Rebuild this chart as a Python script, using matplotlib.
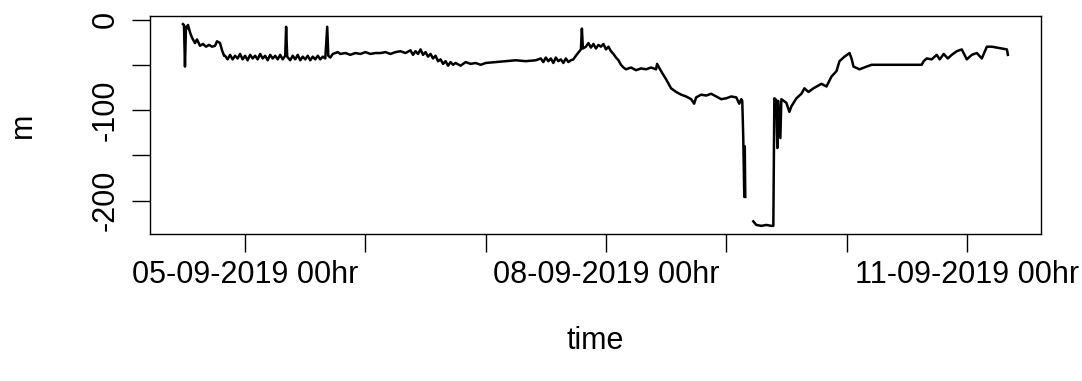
import numpy as np
import matplotlib
matplotlib.use("Agg")
import matplotlib.pyplot as plt

# water level readings, hours counted from 05-09-2019 00:00
hours = [
    -12.4, -12.2, -12.0, -11.8, -11.6, -11.4, -11.0, -10.6, -10.0, -9.6,
    -9.0, -8.4, -7.8, -7.2, -6.6, -6.0, -5.6, -5.0, -4.6, -4.2,
    -4.0, -3.5, -3.0, -2.5, -2.0, -1.5, -1.0, -0.5, 0.0, 0.5,
    1.0, 1.5, 2.0, 2.5, 3.0, 3.5, 4.0, 4.5, 5.0, 5.5,
    6.0, 6.5, 7.0, 7.5, 8.0, 8.2, 8.4, 9.0, 9.5, 10.0,
    10.5, 11.0, 11.5, 12.0, 12.5, 13.0, 13.5, 14.0, 14.5, 15.0,
    15.5, 16.0, 16.4, 16.6, 17.0, 17.5, 18.0, 18.5, 19.0, 20.0,
    21.0, 22.0, 23.0, 24.0, 25.0, 26.0, 27.0, 28.0, 29.0, 30.0,
    31.0, 32.0, 33.0, 33.5, 34.0, 34.5, 35.0, 35.5, 36.0, 36.5,
    37.0, 37.5, 38.0, 38.5, 39.0, 39.5, 40.0, 40.5, 41.0, 41.5,
    42.0, 43.0, 44.0, 45.0, 46.0, 47.0, 48.0, 50.0, 52.0, 54.0,
    56.0, 58.0, 59.0, 59.5, 60.0, 60.5, 61.0, 61.5, 62.0, 62.5,
    63.0, 63.5, 64.0, 64.5, 65.0, 65.5, 66.0, 67.0, 67.2, 67.4,
    68.0, 68.5, 69.0, 69.5, 70.0, 70.5, 71.0, 71.5, 72.0, 72.5,
    73.0, 73.5, 74.0, 74.5, 75.0, 75.5, 76.0, 77.0, 78.0, 79.0,
    80.0, 81.0, 82.0, 82.2, 82.6, 83.0, 84.0, 85.0, 86.0, 87.0,
    88.0, 89.0, 89.6, 90.0, 91.0, 92.0, 93.0, 94.0, 95.0, 96.0,
    97.0, 98.0, 98.6, 99.0, 99.2, 99.4, 99.6, 99.7, 99.8, 99.9,
    101.4, 102.0, 103.0, 104.0, 105.0, 105.4, 105.6, 106.0, 106.2, 106.4,
    106.8, 107.0, 108.0, 108.6, 109.0, 110.0, 111.0, 111.6, 112.4, 113.4,
    115.0, 116.0, 117.0, 118.0, 118.6, 119.6, 120.6, 121.0, 121.4, 122.6,
    124.0, 125.0, 130.0, 135.0, 135.4, 136.0, 137.0, 138.0, 138.6, 139.4,
    140.2, 141.0, 142.0, 143.0, 144.0, 145.0, 146.0, 147.0, 148.0, 149.0,
    151.0, 152.0, 152.2,
]
level = [
    -5, -6, -52, -8, -10, -6, -14, -20, -26, -22,
    -29, -27, -30, -28, -30, -29, -24, -26, -34, -40,
    -40, -44, -39, -44, -40, -43, -38, -44, -40, -45,
    -39, -43, -40, -44, -38, -43, -40, -45, -39, -43,
    -40, -44, -39, -44, -40, -8, -41, -45, -40, -44,
    -39, -45, -41, -44, -40, -45, -41, -44, -40, -44,
    -41, -43, -8, -40, -42, -38, -37, -36, -38, -37,
    -39, -37, -38, -36, -38, -37, -37, -36, -38, -36,
    -35, -37, -34, -39, -35, -38, -33, -39, -36, -41,
    -38, -43, -40, -46, -44, -49, -46, -51, -47, -50,
    -48, -51, -47, -49, -48, -50, -48, -47, -46, -45,
    -46, -45, -43, -47, -42, -46, -43, -48, -42, -46,
    -44, -48, -43, -47, -45, -44, -40, -33, -10, -32,
    -30, -26, -31, -27, -32, -28, -30, -27, -33, -30,
    -35, -38, -42, -45, -50, -53, -55, -53, -56, -54,
    -55, -53, -55, -49, -53, -57, -66, -76, -80, -83,
    -85, -88, -93, -86, -83, -84, -82, -85, -88, -87,
    -85, -86, -93, -88, -90, -131, -196, -140, -196, np.nan,
    -223, -227, -228, -227, -228, -228, -87, -89, -142, -90,
    -131, -88, -92, -102, -96, -87, -82, -76, -80, -76,
    -71, -74, -63, -57, -46, -41, -37, -43, -52, -55,
    -52, -50, -50, -50, -46, -43, -44, -39, -44, -38,
    -43, -39, -35, -33, -44, -39, -37, -43, -30, -30,
    -32, -33, -39,
]

start = np.datetime64("2019-09-05T00:00")
tick_days = ["2019-09-05", "2019-09-06", "2019-09-07", "2019-09-08",
             "2019-09-09", "2019-09-10", "2019-09-11"]
tick_text = ["05-09-2019 00hr", "", "", "08-09-2019 00hr", "", "", "11-09-2019 00hr"]
y_ticks = [0, -50, -100, -150, -200]
y_text = ["0", "", "-100", "", "-200"]

time = start + (np.array(hours) * 60).astype("timedelta64[m]")

plt.rcParams["font.family"] = ["Liberation Sans", "DejaVu Sans"]

fig = plt.figure(figsize=(10.82, 3.81), dpi=100)
ax = fig.add_axes([0.1386, 0.386, 0.8234, 0.572])
ax.plot(time, level, color="black", linewidth=1.8)
ax.margins(x=0.04, y=0.04)

ax.set_xticks([np.datetime64(d) for d in tick_days])
ax.set_xticklabels(tick_text)
ax.set_yticks(y_ticks)
ax.set_yticklabels(y_text, rotation=90, va="center")

ax.tick_params(axis="both", direction="out", length=13, width=1.0,
               labelsize=22, colors="black")
ax.tick_params(axis="x", pad=6)
ax.tick_params(axis="y", pad=8)
for s in ax.spines.values():
    s.set_linewidth(1.0)

ax.set_xlabel("time", fontsize=22, labelpad=26)
ax.set_ylabel("m", fontsize=22, labelpad=38)

fig.savefig("out.png", dpi=100)
